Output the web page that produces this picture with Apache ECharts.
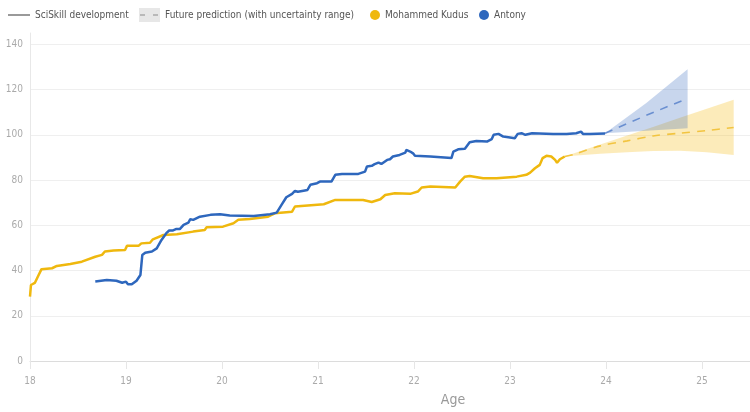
<!DOCTYPE html>
<html><head><meta charset="utf-8">
<script src="https://cdn.jsdelivr.net/npm/echarts@6/dist/echarts.min.js"></script>
<style>html,body{margin:0;padding:0;background:#fff}#c{width:750px;height:412px}</style>
</head><body><div id="c"></div>
<script>
// ---- data ----
const kudusAge = [18.00,18.01,18.05,18.09,18.12,18.23,18.28,18.42,18.54,18.68,18.75,18.78,18.87,18.99,19.01,19.13,19.16,19.25,19.28,19.39,19.53,19.70,19.82,19.84,20.01,20.12,20.17,20.29,20.48,20.55,20.73,20.76,21.06,21.18,21.47,21.56,21.65,21.70,21.80,21.96,22.04,22.08,22.17,22.43,22.48,22.53,22.58,22.72,22.86,23.07,23.17,23.21,23.26,23.31,23.34,23.38,23.43,23.47,23.49,23.52,23.57];
const kudusSkill = [28.5,33.6,34.5,38.0,40.6,41.0,42.0,42.9,43.9,46.1,46.9,48.4,48.8,49.1,50.9,50.9,52.0,52.3,53.8,55.7,56.0,57.2,57.9,59.1,59.4,60.9,62.4,62.8,63.8,65.3,66.0,68.3,69.3,71.2,71.2,70.3,71.5,73.4,74.2,73.9,74.9,76.7,77.1,76.7,79.3,81.5,81.8,80.8,80.8,81.5,82.3,83.3,85.2,86.7,89.7,90.7,90.4,88.9,87.6,89.2,90.4];

const antonyAge = [18.68,18.80,18.90,18.96,19.00,19.02,19.06,19.11,19.15,19.17,19.20,19.27,19.32,19.37,19.42,19.45,19.49,19.52,19.56,19.60,19.65,19.67,19.70,19.77,19.88,19.98,20.08,20.33,20.50,20.57,20.62,20.67,20.73,20.76,20.79,20.85,20.89,20.92,20.99,21.02,21.14,21.18,21.25,21.42,21.49,21.51,21.56,21.59,21.63,21.66,21.72,21.75,21.78,21.85,21.91,21.92,21.96,21.99,22.01,22.17,22.39,22.41,22.46,22.53,22.58,22.65,22.76,22.81,22.83,22.88,22.93,23.00,23.05,23.08,23.12,23.16,23.23,23.45,23.59,23.69,23.74,23.76,23.83,23.99];
const antonySkill = [35.1,35.8,35.5,34.6,35.1,33.9,33.9,35.5,38.0,46.9,47.9,48.4,49.8,53.5,56.5,57.7,57.7,58.3,58.3,60.2,61.2,62.7,62.4,63.8,64.6,64.9,64.3,64.1,64.9,65.6,69.0,72.4,73.9,75.2,74.8,75.3,75.6,77.9,78.6,79.3,79.3,82.3,82.7,82.7,83.7,86.0,86.3,87.0,87.7,87.1,88.9,89.2,90.4,91.1,92.1,93.3,92.6,91.8,90.7,90.4,89.7,92.6,93.6,93.8,96.7,97.3,97.0,98.1,100.0,100.4,99.2,98.8,98.5,100.4,100.7,100.0,100.7,100.4,100.3,100.7,101.4,100.4,100.3,100.6];

const kudusPredAge  = [23.57,23.66,23.94,24.22,24.49,24.77,25.05,25.33];
const kudusPredMid  = [90.4,91.3,95.1,97.3,99.5,100.7,101.9,103.2];
const kudusPredLow  = [90.4,90.7,91.6,92.3,92.8,92.9,92.3,91.1];
const kudusPredHigh = [90.4,91.7,95.7,99.7,103.5,107.5,111.5,115.5];

const antonyPredAge  = [23.99,24.42,24.85];
const antonyPredMid  = [100.7,108.6,116.1];
const antonyPredLow  = [100.7,101.8,102.9];
const antonyPredHigh = [100.7,114.0,129.0];

const yTicks = [0,20,40,60,80,100,120,140];
const xTicks = [18,19,20,21,22,23,24,25];

// ---- styling ----
const FONT = '"Liberation Sans Narrow", "DejaVu Sans Condensed", sans-serif';
const YELLOW = '#EFB80E';
const BLUE = '#2E67BD';

const zip = (a, b) => a.map((v, i) => [v, b[i]]);

function bandSeries(ages, low, high, fill, z) {
  return {
    type: 'custom', silent: true, z: z, clip: true,
    data: zip(ages, low),
    encode: {x: 0, y: 1},
    renderItem: function (params, api) {
      if (params.dataIndex !== 0) return null;
      const pts = [];
      for (let i = 0; i < ages.length; i++) pts.push(api.coord([ages[i], high[i]]));
      for (let i = ages.length - 1; i >= 0; i--) pts.push(api.coord([ages[i], low[i]]));
      return {type: 'polygon', shape: {points: pts}, style: {fill: fill, stroke: null}};
    }
  };
}

const chart = echarts.init(document.getElementById('c'), null, {renderer: 'canvas'});

const legendBase = {
  orient: 'horizontal', top: 8, padding: 0, itemGap: 0,
  textStyle: {fontFamily: FONT, fontSize: 10, color: '#555', lineHeight: 14},
  selectedMode: false
};

const option = {
  animation: false,
  backgroundColor: '#fff',
  grid: {left: 30, right: 0, top: 33, bottom: 51, containLabel: false},
  legend: [
    Object.assign({}, legendBase, {left: 8, itemWidth: 22, itemHeight: 2,
      data: [{name: 'SciSkill development', icon: 'rect', itemStyle: {color: '#9a9a9a'}}]}),
    Object.assign({}, legendBase, {left: 139, itemWidth: 21, itemHeight: 14,
      data: [{name: 'Future prediction (with uncertainty range)', icon: 'rect', itemStyle: {color: '#e7e7e7'}}]}),
    Object.assign({}, legendBase, {left: 370, itemWidth: 10, itemHeight: 10,
      data: [{name: 'Mohammed Kudus', icon: 'circle', itemStyle: {color: YELLOW}}]}),
    Object.assign({}, legendBase, {left: 479, itemWidth: 10, itemHeight: 10,
      data: [{name: 'Antony', icon: 'circle', itemStyle: {color: BLUE}}]})
  ],
  graphic: [
    {type: 'line', z: 100, shape: {x1: 140, y1: 15, x2: 145, y2: 15}, style: {stroke: '#aaa', lineWidth: 1.5}},
    {type: 'line', z: 100, shape: {x1: 153, y1: 15, x2: 158, y2: 15}, style: {stroke: '#aaa', lineWidth: 1.5}}
  ],
  xAxis: {
    type: 'value', min: 18, max: 25.5, interval: 1,
    name: 'Age', nameLocation: 'middle', nameGap: 32,
    nameTextStyle: {fontFamily: FONT, fontSize: 14, color: '#999', padding: [0, 0, 0, 126]},
    axisLine: {show: true, lineStyle: {color: '#dcdcdc', width: 1}},
    axisTick: {show: true, length: 8, inside: false, lineStyle: {color: '#e6e6e6'}},
    axisLabel: {fontFamily: FONT, fontSize: 10, color: '#aaa', margin: 15, showMaxLabel: false,
      formatter: v => (xTicks.indexOf(v) >= 0 ? String(v) : '')},
    splitLine: {show: false}
  },
  yAxis: {
    type: 'value', min: 0, max: 145, interval: 20,
    axisLine: {show: true, lineStyle: {color: '#e8e8e8'}},
    axisTick: {show: false},
    axisLabel: {fontFamily: FONT, fontSize: 10, color: '#aaa', margin: 7, showMaxLabel: false,
      formatter: v => (yTicks.indexOf(v) >= 0 ? String(v) : '')},
    splitLine: {show: true, showMaxLine: false, lineStyle: {color: '#efefef'}}
  },
  series: [
    bandSeries(kudusPredAge, kudusPredLow, kudusPredHigh, 'rgba(245,190,25,0.30)', 1),
    bandSeries(antonyPredAge, antonyPredLow, antonyPredHigh, 'rgba(50,105,190,0.27)', 2),
    {name: 'Kudus prediction', type: 'line', data: zip(kudusPredAge, kudusPredMid), symbol: 'none', smooth: 0.3,
      lineStyle: {color: '#F2C440', width: 1.6, type: [8, 7]}, z: 3},
    {name: 'Antony prediction', type: 'line', data: zip(antonyPredAge, antonyPredMid), symbol: 'none',
      lineStyle: {color: '#6A8FD0', width: 1.6, type: [8, 7]}, z: 3},
    {name: 'Mohammed Kudus', type: 'line', data: zip(kudusAge, kudusSkill), symbol: 'none',
      color: YELLOW, lineStyle: {color: YELLOW, width: 2.5}, z: 4},
    {name: 'Antony', type: 'line', data: zip(antonyAge, antonySkill), symbol: 'none',
      color: BLUE, lineStyle: {color: BLUE, width: 2.5}, z: 5},
    {name: 'SciSkill development', type: 'line', data: [], color: '#9a9a9a'},
    {name: 'Future prediction (with uncertainty range)', type: 'line', data: [], color: '#e7e7e7'}
  ]
};
chart.setOption(option);
</script>
</body></html>
